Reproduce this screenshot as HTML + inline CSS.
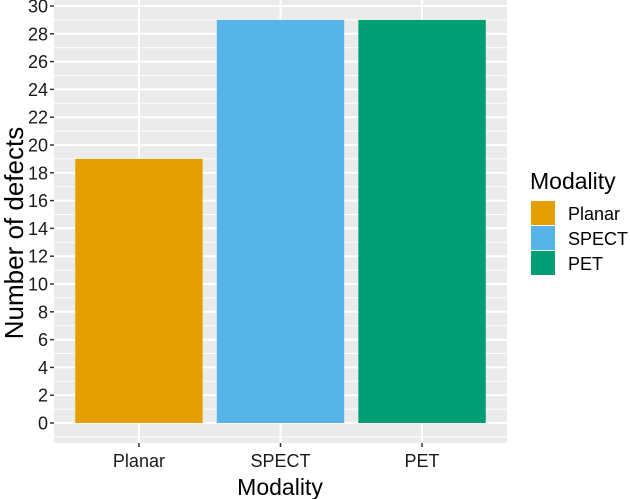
<!DOCTYPE html>
<html><head><meta charset="utf-8"><style>
body{margin:0;background:#fff}
svg{display:block;font-family:"Liberation Sans",Arial,sans-serif}
</style></head><body>
<svg id="chart" width="630" height="499" viewBox="0 0 630 499">
<rect x="54" y="0" width="453" height="443" fill="#ebebeb"/>
<g id="grid"></g>
<g id="bars"></g>
<g id="axes"></g>
<text x="280" y="495" font-size="23" text-anchor="middle" fill="#000">Modality</text>
<text transform="translate(23,233) rotate(-90)" font-size="26" text-anchor="middle" fill="#000">Number of defects</text>
<g>
<text x="530" y="189" font-size="23" fill="#000">Modality</text>
<g id="legend-items"></g>
</g>
</svg>
<script>
const categories=["Planar","SPECT","PET"];
const values=[19,29,29];
const colors=["#E69F00","#56B4E9","#009E73"];
const yTicks=[0,2,4,6,8,10,12,14,16,18,20,22,24,26,28,30];
const NS="http://www.w3.org/2000/svg";
const pl=54,pr=507,pb=443;
const y0=423,unit=13.9;
function y(v){return y0-v*unit;}
const step=(pr-pl)/3.2;
function x(i){return pl+(i+0.6)*step;}
function mk(t,a,p){const e=document.createElementNS(NS,t);for(const k in a)e.setAttribute(k,a[k]);p.appendChild(e);return e;}
const grid=document.getElementById('grid'),bars=document.getElementById('bars'),axes=document.getElementById('axes'),leg=document.getElementById('legend-items');
for(let i=0;i<yTicks.length-1;i++){const v=(yTicks[i]+yTicks[i+1])/2;
const l=mk('line',{x1:pl,x2:pr,y1:y(v),y2:y(v),stroke:'#fff','stroke-width':1},grid);

}
{const l=mk('line',{x1:pl,x2:pr,y1:y(-1),y2:y(-1),stroke:'#fff','stroke-width':1},grid);

}
yTicks.forEach(v=>{
const l=mk('line',{x1:pl,x2:pr,y1:y(v),y2:y(v),stroke:'#fff','stroke-width':2},grid);


const t=mk('line',{x1:pl-4,x2:pl,y1:y(v),y2:y(v),stroke:'#333','stroke-width':1.5},axes);


const tx=mk('text',{x:pl-6,y:y(v)+6.5,'font-size':18,'text-anchor':'end',fill:'#1a1a1a'},axes);
tx.textContent=v;


});
categories.forEach((c,i)=>{
const g=mk('line',{x1:x(i),x2:x(i),y1:0,y2:pb,stroke:'#fff','stroke-width':2},grid);


const w=step*0.9;
const b=mk('rect',{x:x(i)-w/2,y:y(values[i]),width:w,height:y(0)-y(values[i]),fill:colors[i]},bars);


const t=mk('line',{x1:x(i),x2:x(i),y1:pb,y2:pb+4,stroke:'#333','stroke-width':1.5},axes);


const tx=mk('text',{x:x(i),y:467,'font-size':18,'text-anchor':'middle',fill:'#1a1a1a'},axes);
tx.textContent=c;


const k=mk('rect',{x:531,y:201+i*25,width:24,height:24,fill:colors[i]},leg);


const lt=mk('text',{x:568,y:220+i*25,'font-size':18,fill:'#000'},leg);
lt.textContent=c;


});
</script>
</body></html>
